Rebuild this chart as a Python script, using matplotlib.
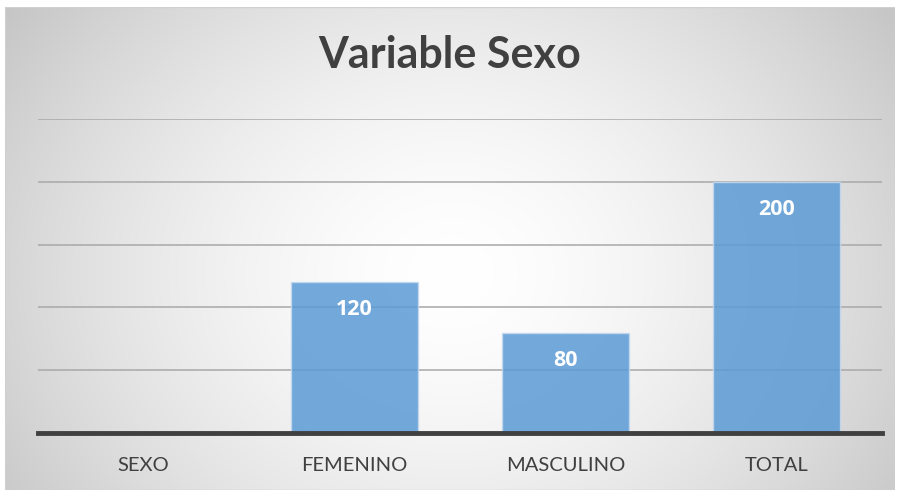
import numpy as np
import matplotlib
matplotlib.use("Agg")
import matplotlib.pyplot as plt
from matplotlib.patches import Rectangle

categories = ["SEXO", "FEMENINO", "MASCULINO", "TOTAL"]
values = [0, 120, 80, 200]
bar_labels = ["", "120", "80", "200"]
title = "Variable Sexo"

plt.rcParams['font.family'] = ['Lato', 'DejaVu Sans']

W, H = 900, 494
fig = plt.figure(figsize=(W / 100, H / 100), dpi=100)
fig.patch.set_facecolor("white")

# background radial gradient panel
bg = fig.add_axes([5 / W, 4 / H, 890 / W, 483 / H])
bg.set_axis_off()
ny, nx = 300, 550
yy, xx = np.mgrid[0:ny, 0:nx]
cx, cy = nx * 0.5, ny * 0.55
r = np.sqrt(((xx - cx) / (nx * 0.62)) ** 2 + ((yy - cy) / (ny * 0.95)) ** 2)
r = np.clip(r, 0, 1)
shade = 1.0 - 0.23 * r ** 1.6
img = np.dstack([shade, shade, shade])
bg.imshow(img, extent=[0, 1, 0, 1], aspect="auto", origin="upper")
bg.set_xlim(0, 1)
bg.set_ylim(0, 1)
bg.add_patch(Rectangle((0, 0), 1, 1, transform=bg.transAxes, fill=False,
                       edgecolor="#d0d0d0", lw=1.0))

# plot axes: x from 38 to 882, y baseline 433 (0) to 119 (250)
ax = fig.add_axes([38 / W, (H - 433) / H, (882 - 38) / W, (433 - 119) / H])
ax.patch.set_alpha(0)
x = np.arange(len(categories))
ax.set_xlim(-0.5, len(categories) - 0.5)
ax.set_ylim(0, 250)
for g in [50, 100, 150, 200, 250]:
    ax.axhline(g, color="#a8a8a8", lw=1.1, zorder=1)
bars = ax.bar(x, values, width=0.6, color="#5B9BD5", alpha=0.85,
              edgecolor="#c5d9ee", linewidth=1.0, zorder=2)
for xi, v, lab in zip(x, values, bar_labels):
    if lab:
        ax.text(xi, v - 22, lab, ha="center", va="center", color="white",
                fontsize=15.5, fontweight="bold", zorder=3,
                family=["Open Sans", "DejaVu Sans"])
ax.axhline(0, color="#404040", lw=3.5, zorder=4, clip_on=False)
for s in ax.spines.values():
    s.set_visible(False)
ax.set_yticks([])
ax.set_xticks(x)
ax.set_xticklabels(categories, fontsize=14.5, color="#404040")
ax.tick_params(axis="x", length=0, pad=17)

fig.text(0.5, (H - 55) / H, title, ha="center", va="center", fontsize=31,
         fontweight="bold", color="#404040")

fig.savefig("out.png", dpi=100)
